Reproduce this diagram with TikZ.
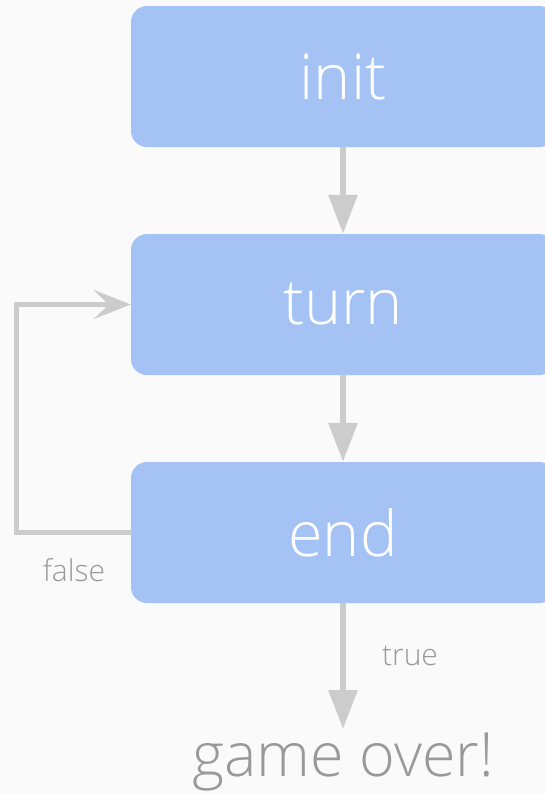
\documentclass[tikz,border=0pt]{standalone}
\usepackage{fontspec}
\setmainfont{Open Sans Light}
\usetikzlibrary{arrows.meta}
\definecolor{pagebg}{HTML}{FAFAFA}
\definecolor{boxblue}{HTML}{A4C2F4}
\definecolor{linkgray}{HTML}{CCCCCC}
\definecolor{labelgray}{HTML}{999999}
\begin{document}
\begin{tikzpicture}[x=1pt,y=-1pt,
  stepbox/.style={fill=boxblue, rounded corners=16pt, minimum width=424pt,
    minimum height=141pt, inner sep=0pt, text=white,
    font=\fontsize{63}{63}\selectfont},
  flow/.style={draw=linkgray, line width=6pt,
    -{Triangle[length=39pt,width=28pt]}},
  backloop/.style={draw=linkgray, line width=5pt,
    -{Stealth[length=37pt,width=29pt,inset=15pt]}},
  smalllabel/.style={text=labelgray, inner sep=0pt, anchor=base,
    font=\fontsize{30}{30}\selectfont},
  biglabel/.style={text=labelgray, inner sep=0pt, anchor=base,
    font=\fontsize{61}{61}\selectfont}]
\fill[pagebg] (0,0) rectangle (545,793);
\useasboundingbox (0,0) rectangle (545,793);
\clip (0,0) rectangle (545,793);

% the three steps of the game loop
\node[stepbox] (init) at (343,76.5) {init};
\node[stepbox] (turn) at (343,304.5) {turn};
\node[stepbox] (end)  at (343,532.5) {end};

% labels
\node[biglabel] (over) at (343,776) {game over!};
\node[smalllabel] (false) at (74,581) {false};
\node[smalllabel] (true) at (410,665) {true};
\coordinate (overtop) at (343,729);

% connectors
\draw[flow] (init.south) -- (turn.north);
\draw[flow] (turn.south) -- (end.north);
\draw[flow] (end.south) -- (overtop);
\draw[backloop] (end.west) -- ++(-114,0) |- (turn.west);
\end{tikzpicture}
\end{document}
